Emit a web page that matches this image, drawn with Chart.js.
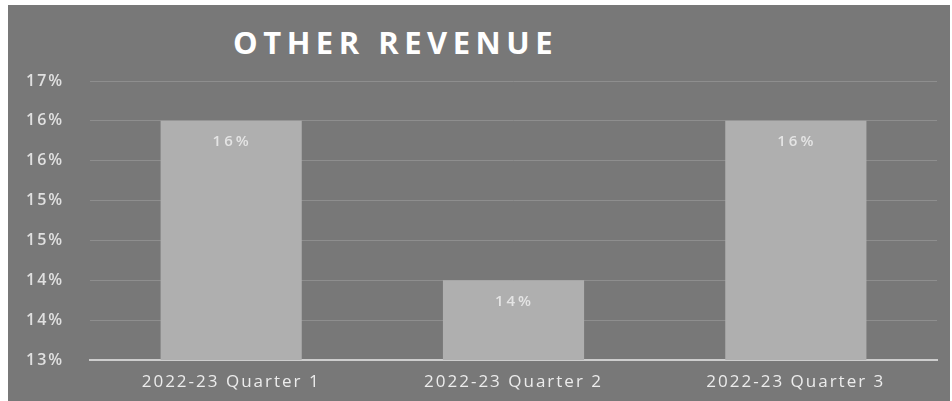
<!DOCTYPE html>
<html>
<head>
<meta charset="utf-8">
<title>Other Revenue</title>
<script src="https://cdn.jsdelivr.net/npm/chart.js@4.4.1/dist/chart.umd.min.js"></script>
<style>
  html, body { margin: 0; background: #fff; }
  .panel {
    position: absolute; left: 8px; top: 5px;
    width: 942px; height: 396px;
    background: #787878;
  }
  .panel h1 {
    position: absolute; left: 225px; top: 22px; margin: 0;
    font: bold 31px 'Open Sans', sans-serif; line-height: 31px;
    letter-spacing: 5.5px; color: #fff; white-space: nowrap;
  }
  .panel canvas { position: absolute; left: 0; top: 0; }
</style>
</head>
<body>
<div class="panel">
  <h1>OTHER REVENUE</h1>
  <canvas id="revChart" width="942" height="396"></canvas>
</div>
<script>
const quarters = ['2022-23 Quarter 1', '2022-23 Quarter 2', '2022-23 Quarter 3'];
const otherRevenue = [16, 14, 16];
const yTickLabels = ['13%', '14%', '14%', '15%', '15%', '16%', '16%', '17%'];
const barLabels = otherRevenue.map(v => Math.round(v) + '%');

// wide-set text like the rest of the deck
const spacing = {
  id: 'spacing',
  beforeDraw(chart) {
    chart.ctx.letterSpacing = '2px';
  }
};

// percentage printed inside the top of each bar
const valueLabels = {
  id: 'valueLabels',
  afterDatasetsDraw(chart) {
    const ctx = chart.ctx;
    const meta = chart.getDatasetMeta(0);
    ctx.save();
    ctx.font = '600 15px "Open Sans"';
    ctx.fillStyle = '#e4e4e4';
    ctx.textAlign = 'center';
    ctx.textBaseline = 'middle';
    ctx.letterSpacing = '3px';
    meta.data.forEach((bar, i) => {
      ctx.fillText(barLabels[i], bar.x + 1, bar.y + 21);
    });
    ctx.restore();
  }
};

new Chart(document.getElementById('revChart'), {
  type: 'bar',
  data: {
    labels: quarters,
    datasets: [{
      data: otherRevenue,
      backgroundColor: '#afafaf',
      borderWidth: 0,
      barPercentage: 0.5,
      categoryPercentage: 1.0,
    }],
  },
  options: {
    responsive: false,
    animation: false,
    layout: {
      padding: { left: 18, right: 13, top: 76, bottom: 0 },
    },
    plugins: {
      legend: { display: false },
      title: { display: false },
      tooltip: { enabled: false },
    },
    scales: {
      x: {
        grid: { display: false, drawTicks: false },
        border: { color: '#cdcdcd', width: 2 },
        ticks: {
          color: '#ececec',
          font: { family: 'Open Sans', size: 17 },
          padding: 12,
          maxRotation: 0,
        },
        afterFit(scale) { scale.height = 41; },
      },
      y: {
        min: 13,
        max: 16.5,
        grid: { color: '#8e8e8e', lineWidth: 1, drawTicks: false },
        border: { display: false },
        ticks: {
          stepSize: 0.5,
          color: '#e0e0e0',
          crossAlign: 'far',
          font: { family: 'Open Sans', size: 16, weight: '600' },
          callback: (v, i) => yTickLabels[i],
        },
        afterFit(scale) { scale.width = 64; },
      },
    },
  },
  plugins: [spacing, valueLabels],
});
</script>
</body>
</html>
